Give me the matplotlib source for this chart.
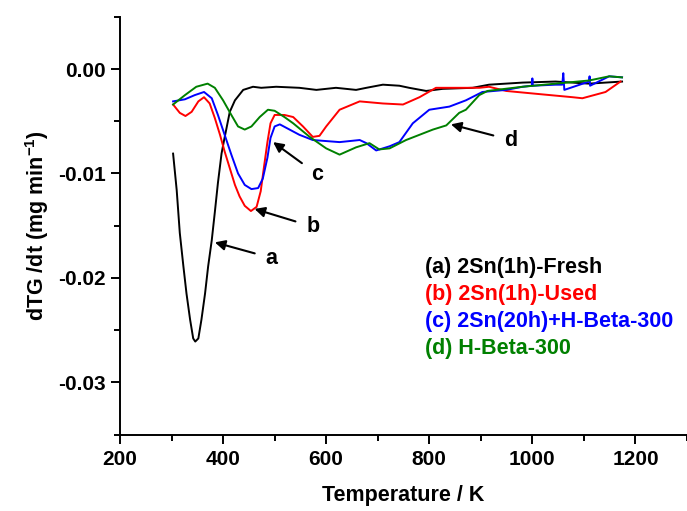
import matplotlib
matplotlib.use("Agg")
import matplotlib.pyplot as plt
from matplotlib.ticker import MultipleLocator, FormatStrFormatter

plt.rcParams['font.family'] = ['Liberation Sans', 'DejaVu Sans']
plt.rcParams['font.weight'] = 'bold'
plt.rcParams['mathtext.fontset'] = 'custom'
plt.rcParams['mathtext.rm'] = 'Liberation Sans:bold'
plt.rcParams['mathtext.bf'] = 'Liberation Sans:bold'

# (a) 2Sn(1h)-Fresh
T_a = [303, 310, 316, 323, 329, 336, 342, 346, 352, 358, 365, 371, 378, 384, 390, 397, 402,
       413, 423, 439, 458, 474, 503, 548, 581, 619, 658, 678, 710, 742, 761, 794, 826, 884,
       916, 981, 1045, 1110, 1174]
y_a = [-0.0081, -0.0116, -0.0157, -0.0189, -0.0215, -0.0240, -0.0258, -0.0261, -0.0258,
       -0.0240, -0.0215, -0.0189, -0.0164, -0.0137, -0.0109, -0.0081, -0.0068,
       -0.0041, -0.0030, -0.0020, -0.0017, -0.0018, -0.0017, -0.0018, -0.0020, -0.0018,
       -0.0020, -0.0018, -0.0015, -0.0016, -0.0018, -0.0021, -0.0019, -0.0018,
       -0.0015, -0.0013, -0.0012, -0.0014, -0.0012]

# (b) 2Sn(1h)-Used
T_b = [303, 316, 327, 339, 352, 363, 374, 384, 394, 403, 413, 423, 432, 442, 454, 465, 473,
       479, 486, 492, 500, 519, 536, 555, 574, 587, 600, 626, 665, 710, 749, 781, 813, 852,
       897, 916, 949, 1013, 1078, 1097, 1142, 1171]
y_b = [-0.0034, -0.0042, -0.0045, -0.0041, -0.0031, -0.0027, -0.0033, -0.0047, -0.0063,
       -0.0079, -0.0095, -0.0111, -0.0122, -0.0131, -0.0136, -0.0132, -0.0117, -0.0095,
       -0.0070, -0.0052, -0.0044, -0.0044, -0.0046, -0.0055, -0.0065, -0.0064, -0.0055,
       -0.0039, -0.0031, -0.0033, -0.0034, -0.0027, -0.0018, -0.0018, -0.0018, -0.0017,
       -0.0021, -0.0024, -0.0027, -0.0028, -0.0022, -0.0012]

# (c) 2Sn(20h)+H-Beta-300
T_c = [303, 326, 345, 363, 378, 390, 403, 416, 429, 442, 455, 468, 477, 486, 492, 500, 510,
       529, 548, 574, 626, 665, 678, 697, 723, 742, 768, 800, 839, 871, 903, 949, 981, 999,
       1000, 1001, 1045, 1058, 1060, 1062, 1110, 1111, 1112, 1149, 1174]
y_c = [-0.0031, -0.0029, -0.0025, -0.0022, -0.0028, -0.0044, -0.0063, -0.0082, -0.0100,
       -0.0111, -0.0115, -0.0114, -0.0105, -0.0085, -0.0066, -0.0055, -0.0053, -0.0058,
       -0.0063, -0.0068, -0.0070, -0.0068, -0.0071, -0.0078, -0.0074, -0.0070, -0.0052,
       -0.0039, -0.0036, -0.0030, -0.0022, -0.0020, -0.0017, -0.0016, -0.0009, -0.0016,
       -0.0015, -0.0015, -0.0004, -0.0020, -0.0012, -0.0007, -0.0016, -0.0007, -0.0008]

# (d) H-Beta-300
T_d = [303, 326, 348, 370, 384, 400, 416, 429, 442, 455, 471, 487, 500, 519, 536, 568, 600,
       626, 658, 684, 703, 723, 755, 807, 833, 858, 871, 897, 913, 981, 1045, 1110, 1149, 1174]
y_d = [-0.0034, -0.0025, -0.0017, -0.0014, -0.0018, -0.0030, -0.0044, -0.0055, -0.0058,
       -0.0055, -0.0046, -0.0039, -0.0040, -0.0046, -0.0052, -0.0065, -0.0076, -0.0082,
       -0.0075, -0.0071, -0.0077, -0.0076, -0.0068, -0.0058, -0.0054, -0.0042, -0.0039,
       -0.0025, -0.0021, -0.0017, -0.0014, -0.0011, -0.0007, -0.0008]

legend_labels = ["(a) 2Sn(1h)-Fresh", "(b) 2Sn(1h)-Used",
                 "(c) 2Sn(20h)+H-Beta-300", "(d) H-Beta-300"]
colors = ["black", "#ff0000", "#0000ff", "#008000"]

# annotation letters: (label, text position, arrow head position)
ann_letters = ["a", "b", "c", "d"]
ann_text_T = [494, 574, 583, 958]
ann_text_y = [-0.0181, -0.0151, -0.0101, -0.0068]
ann_head_T = [384, 461, 497, 842]
ann_head_y = [-0.0166, -0.0134, -0.0070, -0.0053]

fig = plt.figure(figsize=(6.87, 5.11), dpi=100)
ax = fig.add_axes([120 / 687, 1 - 434.5 / 511, 1 - 120 / 687, (434.5 - 16.8) / 511])

for T, y, c in zip([T_a, T_b, T_c, T_d], [y_a, y_b, y_c, y_d], colors):
    ax.plot(T, y, color=c, lw=1.4)

for lab, tx, ty, hx, hy in zip(ann_letters, ann_text_T, ann_text_y, ann_head_T, ann_head_y):
    ax.annotate(lab, xy=(hx, hy), xytext=(tx, ty), ha='center', va='center',
                fontsize=15.5, fontweight='bold',
                arrowprops=dict(arrowstyle='-|>', color='black', lw=1.5,
                                mutation_scale=15, shrinkA=6, shrinkB=0))

for i, (lab, c) in enumerate(zip(legend_labels, colors)):
    ax.text(792, -0.0190 - i * 0.00258, lab, color=c, fontsize=15.5,
            fontweight='bold', ha='left', va='center')

ax.set_xlim(200, 1300)
ax.set_ylim(-0.035, 0.005)
ax.xaxis.set_major_locator(MultipleLocator(200))
ax.xaxis.set_minor_locator(MultipleLocator(100))
ax.yaxis.set_major_locator(MultipleLocator(0.01))
ax.yaxis.set_minor_locator(MultipleLocator(0.005))
ax.yaxis.set_major_formatter(FormatStrFormatter('%.2f'))
ax.set_xticks([200, 400, 600, 800, 1000, 1200])

for s in ['top', 'right']:
    ax.spines[s].set_visible(False)
for s in ['left', 'bottom']:
    ax.spines[s].set_linewidth(1.4)

ax.tick_params(which='major', direction='out', length=6.5, width=1.4, labelsize=15)
ax.tick_params(axis='x', which='major', pad=5)
ax.tick_params(which='minor', direction='out', length=4, width=1.4)

ax.set_xlabel("Temperature / K", fontsize=15.5, fontweight='bold', labelpad=11)
ax.set_ylabel(r"dTG /dt (mg min$^{-1}$)", fontsize=15.5, fontweight='bold', labelpad=5)

fig.savefig("out.png", dpi=100)
